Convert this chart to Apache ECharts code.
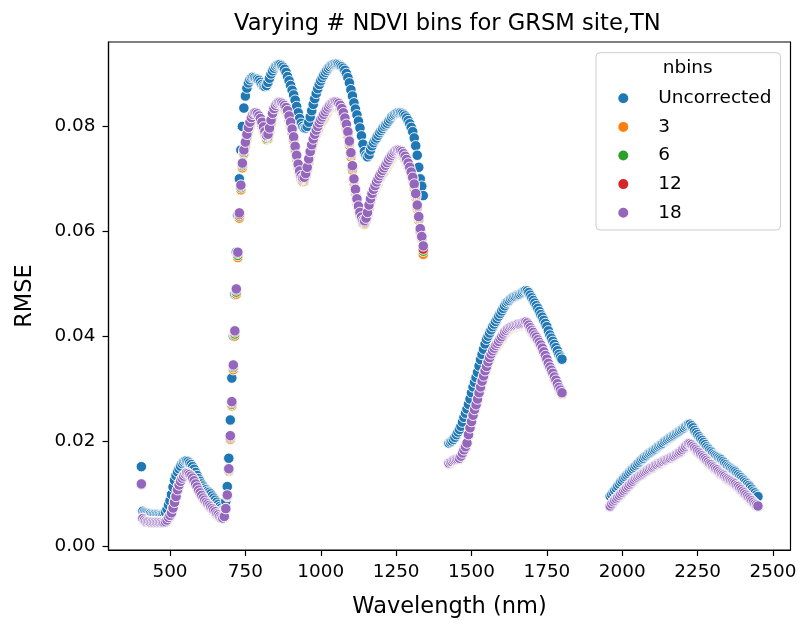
<!DOCTYPE html>
<html><head><meta charset="utf-8">
<script src="https://cdn.jsdelivr.net/npm/echarts@6/dist/echarts.min.js"></script>
<style>html,body{margin:0;padding:0;background:#fff}#c{width:801px;height:624px}</style>
</head><body><div id="c"></div>
<script>
const wavelength = [
405,410,415,420,425,430,435,440,445,450,
455,460,465,470,475,480,485,490,495,500,
505,510,515,520,525,530,535,540,545,550,
555,560,565,570,575,580,585,590,595,600,
605,610,615,620,625,630,635,640,645,650,
655,660,665,670,675,680,685,690,695,700,
705,710,715,720,725,730,735,740,745,750,
755,760,765,770,775,780,785,790,795,800,
805,810,815,820,825,830,835,840,845,850,
855,860,865,870,875,880,885,890,895,900,
905,910,915,920,925,930,935,940,945,950,
955,960,965,970,975,980,985,990,995,1000,
1005,1010,1015,1020,1025,1030,1035,1040,1045,1050,
1055,1060,1065,1070,1075,1080,1085,1090,1095,1100,
1105,1110,1115,1120,1125,1130,1135,1140,1145,1150,
1155,1160,1165,1170,1175,1180,1185,1190,1195,1200,
1205,1210,1215,1220,1225,1230,1235,1240,1245,1250,
1255,1260,1265,1270,1275,1280,1285,1290,1295,1300,
1305,1310,1315,1320,1325,1330,1335,1340,
1425,1430,1435,1440,1445,1450,1455,1460,1465,1470,
1475,1480,1485,1490,1495,1500,1505,1510,1515,1520,
1525,1530,1535,1540,1545,1550,1555,1560,1565,1570,
1575,1580,1585,1590,1595,1600,1605,1610,1615,1620,
1625,1630,1635,1640,1645,1650,1655,1660,1665,1670,
1675,1680,1685,1690,1695,1700,1705,1710,1715,1720,
1725,1730,1735,1740,1745,1750,1755,1760,1765,1770,
1775,1780,1785,1790,1795,1800,
1960,1965,1970,1975,1980,1985,1990,1995,2000,2005,
2010,2015,2020,2025,2030,2035,2040,2045,2050,2055,
2060,2065,2070,2075,2080,2085,2090,2095,2100,2105,
2110,2115,2120,2125,2130,2135,2140,2145,2150,2155,
2160,2165,2170,2175,2180,2185,2190,2195,2200,2205,
2210,2215,2220,2225,2230,2235,2240,2245,2250,2255,
2260,2265,2270,2275,2280,2285,2290,2295,2300,2305,
2310,2315,2320,2325,2330,2335,2340,2345,2350,2355,
2360,2365,2370,2375,2380,2385,2390,2395,2400,2405,
2410,2415,2420,2425,2430,2435,2440,2445,2450
];

const rmseUncorrected = [
.0151,.0066,.0064,.0063,.0062,.0061,.0061,.0060,.0060,.0060,
.0060,.0060,.0060,.0060,.0061,.0062,.0064,.0070,.0078,.0086,
.0098,.0112,.0125,.0134,.0141,.0147,.0152,.0157,.0160,.0162,
.0162,.0161,.0158,.0155,.0151,.0146,.0140,.0134,.0128,.0123,
.0118,.0114,.0110,.0107,.0104,.0102,.0099,.0095,.0091,.0087,
.0083,.0079,.0075,.0072,.0069,.0070,.0085,.0113,.0167,.0240,
.0320,.0400,.0480,.0560,.0630,.0700,.0755,.0800,.0835,.0858,
.0873,.0883,.0889,.0893,.0894,.0893,.0891,.0890,.0888,.0884,
.0880,.0877,.0876,.0878,.0884,.0892,.0900,.0906,.0911,.0915,
.0917,.0918,.0918,.0916,.0913,.0909,.0903,.0895,.0887,.0878,
.0869,.0860,.0850,.0838,.0826,.0815,.0806,.0800,.0797,.0797,
.0800,.0808,.0818,.0830,.0842,.0853,.0863,.0872,.0880,.0887,
.0893,.0898,.0903,.0907,.0911,.0914,.0917,.0918,.0919,.0919,
.0919,.0918,.0916,.0914,.0911,.0907,.0901,.0893,.0883,.0870,
.0858,.0845,.0833,.0822,.0810,.0797,.0782,.0766,.0752,.0745,
.0742,.0746,.0755,.0763,.0769,.0774,.0778,.0783,.0788,.0792,
.0796,.0800,.0803,.0806,.0810,.0814,.0818,.0821,.0823,.0825,
.0826,.0826,.0826,.0825,.0823,.0820,.0816,.0811,.0805,.0798,
.0790,.0778,.0763,.0745,.0722,.0700,.0686,.0668,
.0196,.0198,.0200,.0203,.0207,.0212,.0217,.0222,.0228,.0236,
.0245,.0253,.0261,.0270,.0280,.0292,.0303,.0312,.0321,.0331,
.0343,.0355,.0365,.0375,.0385,.0394,.0400,.0406,.0412,.0418,
.0423,.0428,.0433,.0438,.0443,.0448,.0453,.0458,.0463,.0466,
.0468,.0471,.0473,.0475,.0476,.0478,.0479,.0480,.0482,.0484,
.0486,.0487,.0486,.0483,.0478,.0473,.0468,.0463,.0458,.0453,
.0447,.0441,.0436,.0430,.0424,.0418,.0410,.0402,.0396,.0390,
.0384,.0378,.0372,.0365,.0360,.0356,
.0095,.0098,.0102,.0106,.0110,.0114,.0118,.0122,.0125,.0129,
.0132,.0135,.0138,.0141,.0144,.0147,.0150,.0153,.0156,.0159,
.0162,.0165,.0167,.0170,.0172,.0175,.0177,.0179,.0181,.0183,
.0185,.0188,.0190,.0192,.0194,.0196,.0199,.0201,.0203,.0205,
.0207,.0209,.0211,.0213,.0215,.0217,.0219,.0221,.0223,.0225,
.0228,.0230,.0232,.0232,.0229,.0225,.0220,.0216,.0212,.0208,
.0204,.0201,.0197,.0193,.0189,.0186,.0183,.0180,.0177,.0174,
.0172,.0170,.0168,.0166,.0164,.0161,.0158,.0155,.0152,.0150,
.0148,.0146,.0144,.0142,.0139,.0136,.0133,.0130,.0127,.0124,
.0121,.0118,.0115,.0112,.0108,.0104,.0101,.0097,.0094
];

const rmseBins3 = [
.0117,.0051,.0048,.0046,.0045,.0045,.0044,.0044,.0044,.0044,
.0044,.0044,.0044,.0044,.0044,.0044,.0045,.0048,.0053,.0057,
.0062,.0071,.0082,.0093,.0106,.0115,.0122,.0128,.0132,.0136,
.0138,.0137,.0135,.0132,.0128,.0123,.0117,.0111,.0105,.0100,
.0095,.0090,.0086,.0082,.0079,.0076,.0073,.0070,.0067,.0064,
.0060,.0058,.0055,.0053,.0052,.0055,.0069,.0094,.0142,.0203,
.0267,.0336,.0400,.0480,.0550,.0625,.0679,.0721,.0747,.0762,
.0777,.0790,.0800,.0809,.0815,.0818,.0818,.0816,.0812,.0807,
.0800,.0791,.0782,.0775,.0777,.0789,.0804,.0817,.0826,.0832,
.0836,.0838,.0838,.0837,.0835,.0832,.0828,.0822,.0812,.0800,
.0787,.0772,.0754,.0737,.0721,.0708,.0699,.0695,.0696,.0703,
.0715,.0731,.0745,.0757,.0768,.0777,.0785,.0792,.0799,.0805,
.0810,.0815,.0820,.0825,.0829,.0833,.0836,.0838,.0839,.0839,
.0838,.0836,.0832,.0826,.0818,.0808,.0796,.0782,.0764,.0742,
.0717,.0693,.0673,.0655,.0641,.0630,.0621,.0615,.0614,.0619,
.0630,.0643,.0655,.0665,.0673,.0680,.0687,.0693,.0699,.0704,
.0709,.0714,.0719,.0724,.0729,.0734,.0738,.0742,.0745,.0747,
.0748,.0748,.0747,.0745,.0741,.0736,.0730,.0723,.0715,.0706,
.0696,.0683,.0665,.0643,.0621,.0599,.0584,.0556,
.0156,.0158,.0159,.0161,.0162,.0163,.0164,.0165,.0169,.0175,
.0181,.0187,.0194,.0210,.0223,.0235,.0246,.0257,.0266,.0277,
.0289,.0300,.0311,.0321,.0331,.0339,.0347,.0355,.0362,.0368,
.0373,.0378,.0382,.0386,.0391,.0395,.0400,.0404,.0407,.0410,
.0412,.0414,.0415,.0416,.0417,.0418,.0419,.0419,.0420,.0421,
.0422,.0423,.0421,.0417,.0412,.0407,.0403,.0398,.0394,.0389,
.0384,.0379,.0373,.0366,.0359,.0352,.0345,.0338,.0332,.0326,
.0319,.0313,.0306,.0299,.0294,.0289,
.0075,.0079,.0083,.0086,.0089,.0092,.0095,.0098,.0101,.0104,
.0107,.0110,.0113,.0116,.0119,.0122,.0125,.0128,.0130,.0132,
.0134,.0136,.0138,.0140,.0142,.0144,.0146,.0148,.0149,.0151,
.0152,.0153,.0155,.0156,.0158,.0159,.0161,.0162,.0164,.0165,
.0166,.0168,.0169,.0171,.0173,.0175,.0177,.0179,.0182,.0185,
.0188,.0191,.0193,.0193,.0191,.0188,.0185,.0182,.0179,.0176,
.0173,.0170,.0167,.0164,.0161,.0158,.0155,.0153,.0150,.0148,
.0145,.0143,.0140,.0137,.0135,.0133,.0131,.0128,.0126,.0124,
.0122,.0120,.0118,.0116,.0113,.0111,.0108,.0105,.0102,.0100,
.0097,.0094,.0091,.0088,.0085,.0082,.0079,.0077,.0075
];

const rmseBins6 = [
.0118,.0052,.0049,.0047,.0046,.0046,.0045,.0045,.0045,.0045,
.0045,.0045,.0045,.0045,.0045,.0045,.0046,.0049,.0054,.0058,
.0063,.0072,.0083,.0094,.0106,.0115,.0122,.0128,.0132,.0136,
.0138,.0137,.0135,.0132,.0128,.0123,.0117,.0111,.0105,.0100,
.0095,.0090,.0086,.0082,.0079,.0076,.0073,.0070,.0067,.0064,
.0060,.0058,.0055,.0053,.0052,.0055,.0070,.0095,.0144,.0206,
.0270,.0340,.0404,.0484,.0554,.0629,.0683,.0725,.0750,.0765,
.0780,.0793,.0803,.0812,.0818,.0821,.0821,.0819,.0815,.0810,
.0803,.0794,.0785,.0778,.0780,.0792,.0807,.0820,.0829,.0835,
.0839,.0841,.0841,.0840,.0838,.0835,.0831,.0825,.0815,.0803,
.0790,.0775,.0757,.0740,.0724,.0711,.0702,.0698,.0699,.0706,
.0718,.0734,.0748,.0761,.0772,.0781,.0789,.0796,.0803,.0809,
.0814,.0819,.0824,.0829,.0833,.0837,.0840,.0842,.0843,.0843,
.0842,.0840,.0836,.0830,.0822,.0812,.0800,.0786,.0768,.0746,
.0721,.0696,.0676,.0658,.0644,.0632,.0623,.0617,.0616,.0621,
.0632,.0646,.0658,.0668,.0676,.0683,.0690,.0696,.0702,.0707,
.0712,.0717,.0722,.0727,.0732,.0737,.0741,.0745,.0748,.0750,
.0751,.0751,.0750,.0748,.0744,.0739,.0733,.0726,.0718,.0709,
.0699,.0686,.0668,.0646,.0624,.0601,.0586,.0562,
.0157,.0159,.0160,.0162,.0163,.0164,.0165,.0166,.0170,.0176,
.0182,.0188,.0195,.0211,.0224,.0236,.0247,.0258,.0267,.0278,
.0290,.0301,.0312,.0322,.0332,.0340,.0349,.0357,.0364,.0370,
.0375,.0380,.0384,.0388,.0393,.0397,.0402,.0406,.0409,.0412,
.0414,.0416,.0417,.0418,.0418,.0419,.0420,.0420,.0421,.0422,
.0423,.0424,.0422,.0418,.0413,.0408,.0404,.0400,.0396,.0391,
.0386,.0381,.0375,.0368,.0361,.0354,.0346,.0339,.0333,.0327,
.0320,.0314,.0307,.0300,.0295,.0290,
.0075,.0079,.0083,.0086,.0089,.0092,.0095,.0098,.0101,.0104,
.0107,.0110,.0113,.0116,.0119,.0122,.0125,.0128,.0130,.0132,
.0134,.0136,.0138,.0140,.0142,.0144,.0146,.0148,.0149,.0151,
.0153,.0154,.0156,.0157,.0159,.0160,.0162,.0163,.0165,.0166,
.0167,.0169,.0170,.0172,.0174,.0176,.0178,.0180,.0183,.0186,
.0189,.0192,.0194,.0194,.0192,.0189,.0186,.0183,.0180,.0177,
.0174,.0171,.0168,.0165,.0162,.0159,.0156,.0154,.0151,.0149,
.0146,.0144,.0141,.0138,.0136,.0134,.0132,.0129,.0127,.0125,
.0123,.0121,.0119,.0117,.0114,.0112,.0109,.0106,.0103,.0100,
.0097,.0094,.0091,.0088,.0085,.0082,.0079,.0077,.0075
];

const rmseBins12 = [
.0118,.0052,.0049,.0047,.0046,.0046,.0045,.0045,.0045,.0045,
.0045,.0045,.0045,.0045,.0045,.0045,.0046,.0049,.0054,.0058,
.0063,.0072,.0083,.0094,.0107,.0116,.0123,.0129,.0133,.0137,
.0139,.0138,.0136,.0133,.0129,.0124,.0118,.0112,.0106,.0101,
.0096,.0091,.0087,.0083,.0080,.0077,.0074,.0071,.0068,.0065,
.0061,.0059,.0056,.0054,.0053,.0056,.0071,.0096,.0146,.0208,
.0273,.0343,.0408,.0488,.0558,.0632,.0686,.0728,.0753,.0768,
.0783,.0796,.0806,.0815,.0821,.0824,.0824,.0822,.0818,.0813,
.0806,.0797,.0788,.0781,.0783,.0795,.0810,.0823,.0832,.0838,
.0842,.0844,.0844,.0843,.0841,.0838,.0834,.0828,.0818,.0806,
.0793,.0778,.0760,.0743,.0726,.0713,.0704,.0700,.0701,.0708,
.0720,.0736,.0750,.0763,.0774,.0783,.0791,.0798,.0805,.0811,
.0816,.0821,.0826,.0831,.0835,.0839,.0842,.0844,.0845,.0845,
.0844,.0842,.0838,.0832,.0824,.0814,.0802,.0788,.0770,.0748,
.0723,.0698,.0678,.0660,.0646,.0634,.0625,.0619,.0618,.0623,
.0634,.0648,.0660,.0670,.0678,.0685,.0692,.0698,.0704,.0709,
.0714,.0719,.0724,.0729,.0734,.0739,.0743,.0747,.0750,.0752,
.0753,.0753,.0752,.0750,.0746,.0741,.0735,.0728,.0720,.0711,
.0701,.0688,.0670,.0648,.0626,.0603,.0588,.0566,
.0158,.0160,.0161,.0163,.0164,.0165,.0166,.0167,.0171,.0177,
.0183,.0189,.0196,.0211,.0224,.0236,.0248,.0259,.0268,.0279,
.0291,.0302,.0313,.0323,.0333,.0341,.0350,.0358,.0365,.0371,
.0376,.0381,.0385,.0389,.0394,.0398,.0403,.0407,.0410,.0413,
.0415,.0417,.0418,.0419,.0420,.0421,.0422,.0422,.0423,.0424,
.0425,.0426,.0424,.0420,.0415,.0410,.0406,.0401,.0397,.0392,
.0387,.0382,.0376,.0369,.0362,.0355,.0347,.0340,.0334,.0328,
.0321,.0315,.0308,.0301,.0296,.0291,
.0076,.0080,.0084,.0087,.0090,.0093,.0096,.0099,.0102,.0105,
.0108,.0111,.0114,.0117,.0120,.0123,.0126,.0129,.0131,.0133,
.0135,.0137,.0139,.0141,.0143,.0145,.0147,.0149,.0150,.0152,
.0154,.0155,.0157,.0158,.0160,.0161,.0163,.0164,.0166,.0167,
.0168,.0170,.0171,.0173,.0175,.0177,.0179,.0181,.0184,.0187,
.0190,.0193,.0195,.0195,.0193,.0190,.0187,.0184,.0181,.0178,
.0175,.0172,.0169,.0166,.0163,.0160,.0157,.0155,.0152,.0150,
.0147,.0145,.0142,.0139,.0137,.0135,.0133,.0130,.0128,.0126,
.0124,.0122,.0120,.0118,.0115,.0113,.0110,.0107,.0104,.0101,
.0098,.0095,.0092,.0089,.0086,.0083,.0080,.0078,.0076
];

const rmseBins18 = [
.0118,.0052,.0049,.0047,.0046,.0046,.0045,.0045,.0045,.0045,
.0045,.0045,.0045,.0045,.0045,.0045,.0046,.0049,.0054,.0058,
.0063,.0072,.0083,.0094,.0107,.0116,.0123,.0129,.0133,.0137,
.0139,.0138,.0136,.0133,.0129,.0124,.0118,.0112,.0106,.0101,
.0096,.0091,.0087,.0083,.0080,.0077,.0074,.0071,.0068,.0065,
.0061,.0059,.0056,.0054,.0053,.0056,.0071,.0097,.0147,.0210,
.0275,.0345,.0410,.0490,.0560,.0635,.0688,.0730,.0755,.0770,
.0785,.0798,.0808,.0817,.0823,.0826,.0826,.0824,.0820,.0815,
.0808,.0799,.0790,.0783,.0785,.0797,.0812,.0825,.0834,.0840,
.0844,.0846,.0846,.0845,.0843,.0840,.0836,.0830,.0820,.0808,
.0795,.0780,.0762,.0745,.0728,.0715,.0706,.0702,.0703,.0710,
.0722,.0738,.0752,.0765,.0776,.0785,.0793,.0800,.0807,.0813,
.0818,.0823,.0828,.0833,.0837,.0841,.0844,.0846,.0847,.0847,
.0846,.0844,.0840,.0834,.0826,.0816,.0804,.0790,.0772,.0750,
.0725,.0700,.0680,.0662,.0648,.0636,.0627,.0621,.0620,.0625,
.0636,.0650,.0662,.0672,.0680,.0687,.0694,.0700,.0706,.0711,
.0716,.0721,.0726,.0731,.0736,.0741,.0745,.0749,.0752,.0754,
.0755,.0755,.0754,.0752,.0748,.0743,.0737,.0730,.0722,.0713,
.0703,.0690,.0672,.0650,.0628,.0605,.0590,.0572,
.0158,.0160,.0161,.0163,.0164,.0165,.0166,.0167,.0171,.0177,
.0183,.0189,.0196,.0212,.0225,.0237,.0249,.0260,.0269,.0280,
.0292,.0303,.0314,.0324,.0334,.0342,.0351,.0359,.0366,.0372,
.0377,.0382,.0386,.0390,.0395,.0399,.0404,.0408,.0411,.0414,
.0416,.0418,.0419,.0420,.0421,.0422,.0423,.0423,.0424,.0425,
.0426,.0427,.0425,.0421,.0416,.0411,.0407,.0402,.0398,.0393,
.0388,.0383,.0377,.0370,.0363,.0356,.0348,.0341,.0335,.0329,
.0322,.0316,.0309,.0302,.0297,.0292,
.0076,.0080,.0084,.0087,.0090,.0093,.0096,.0099,.0102,.0105,
.0108,.0111,.0114,.0117,.0120,.0123,.0126,.0129,.0131,.0133,
.0135,.0137,.0139,.0141,.0143,.0145,.0147,.0149,.0150,.0152,
.0154,.0155,.0157,.0158,.0160,.0161,.0163,.0164,.0166,.0167,
.0168,.0170,.0171,.0173,.0175,.0177,.0179,.0181,.0184,.0187,
.0190,.0193,.0195,.0195,.0193,.0190,.0187,.0184,.0181,.0178,
.0175,.0172,.0169,.0166,.0163,.0160,.0157,.0155,.0152,.0150,
.0147,.0145,.0142,.0139,.0137,.0135,.0133,.0130,.0128,.0126,
.0124,.0122,.0120,.0118,.0115,.0113,.0110,.0107,.0104,.0101,
.0098,.0095,.0092,.0089,.0086,.0083,.0080,.0078,.0076
];

const seriesNames = ['Uncorrected', '3', '6', '12', '18'];
const seriesValues = [rmseUncorrected, rmseBins3, rmseBins6, rmseBins12, rmseBins18];
const seriesColors = ['#1f77b4', '#ff7f0e', '#2ca02c', '#d62728', '#9467bd'];
const xTicks = [500, 750, 1000, 1250, 1500, 1750, 2000, 2250, 2500];
const yTicks = [0, 0.02, 0.04, 0.06, 0.08];

const FONT = 'DejaVu Sans';
const chart = echarts.init(document.getElementById('c'), null, {renderer: 'canvas', devicePixelRatio: 1});

const series = seriesNames.map((name, k) => ({
  type: 'scatter',
  name: name,
  data: wavelength.map((w, i) => [w, seriesValues[k][i]]),
  symbol: 'circle',
  symbolSize: 10.5,
  itemStyle: {color: seriesColors[k], borderColor: '#ffffff', borderWidth: 0.9, opacity: 1},
  emphasis: {disabled: true},
  animation: false
}));

chart.setOption({
  animation: false,
  backgroundColor: '#ffffff',
  title: [
    {text: 'Varying # NDVI bins for GRSM site,TN', left: 234, top: 11, padding: 0,
     textStyle: {fontFamily: FONT, fontSize: 22.6, fontWeight: 'normal', color: '#000', lineHeight: 26}},
    {text: 'nbins', left: 662.7, top: 57, padding: 0, z: 10,
     textStyle: {fontFamily: FONT, fontSize: 18.5, fontWeight: 'normal', color: '#000', lineHeight: 22}}
  ],
  grid: {left: 108.5, right: 10.5, top: 42, bottom: 72, show: true, borderColor: '#000', borderWidth: 1.2, backgroundColor: 'transparent'},
  legend: {
    data: seriesNames.map(n => ({name: n, icon: 'circle'})),
    orient: 'vertical', left: 596, top: 52.7,
    padding: [35.6, 9, 7.3, 20.3],
    itemWidth: 12, itemHeight: 12, itemGap: 8.6,
    textStyle: {fontFamily: FONT, fontSize: 18.5, color: '#000', lineHeight: 20, padding: [0, 0, 0, 24]},
    borderColor: '#cccccc', borderWidth: 1, borderRadius: 4,
    backgroundColor: 'rgba(255,255,255,0.8)'
  },
  xAxis: {
    type: 'value', min: 296, max: 2558, minInterval: 250, maxInterval: 250,
    axisLine: {show: true, onZero: false, lineStyle: {color: '#000', width: 1.2}},
    axisTick: {show: true, inside: false, length: 6, customValues: xTicks, lineStyle: {color: '#000', width: 1.2}},
    axisLabel: {customValues: xTicks, fontFamily: FONT, fontSize: 18.4, color: '#000', margin: 13,
                formatter: v => String(Math.round(v))},
    splitLine: {show: false},
    name: 'Wavelength (nm)', nameLocation: 'middle', nameGap: 46,
    nameTextStyle: {fontFamily: FONT, fontSize: 22.5, color: '#000'}
  },
  yAxis: {
    type: 'value', min: -0.0008, max: 0.0961, minInterval: 0.02, maxInterval: 0.02,
    axisLine: {show: true, onZero: false, lineStyle: {color: '#000', width: 1.2}},
    axisTick: {show: true, inside: false, length: 6, customValues: yTicks, lineStyle: {color: '#000', width: 1.2}},
    axisLabel: {customValues: yTicks, fontFamily: FONT, fontSize: 18.4, color: '#000', margin: 13,
                formatter: v => v.toFixed(2)},
    splitLine: {show: false},
    name: 'RMSE', nameLocation: 'middle', nameGap: 71.5, nameRotate: 90,
    nameTextStyle: {fontFamily: FONT, fontSize: 22.5, color: '#000'}
  },
  series: series
});
</script>
</body></html>
